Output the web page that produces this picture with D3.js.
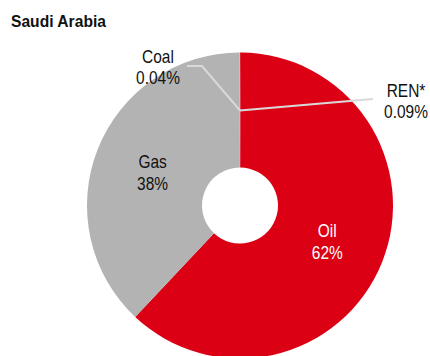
<!DOCTYPE html>
<html>
<head>
<meta charset="utf-8">
<script src="https://cdn.jsdelivr.net/npm/d3@7"></script>
<style>
  body { margin: 0; background: #fff; }
  text { font-family: "Liberation Sans", Arial, sans-serif; }
</style>
</head>
<body>
<div id="chart"></div>
<script>
// data
var categories = ["REN*", "Oil", "Gas", "Coal"];
var values = [0.09, 62, 38, 0.04];
var valueLabels = ["0.09%", "62%", "38%", "0.04%"];
var colors = ["#dc0014", "#dc0014", "#b3b3b3", "#b3b3b3"];

var width = 430, height = 356;
var cx = 240, cy = 205.5,
    outerR = 153, innerR = 38;
var squeeze = 0.86; // reference uses a narrow face

var svg = d3.select("#chart")
  .append("svg")
    .attr("width", width)
    .attr("height", height);

// places a condensed text
function label(parent, x, y, str, opts) {
  return parent.append("text")
    .attr("transform", "translate(" + x + "," + y + ") scale(" + (opts.sx || squeeze) + ",1)")
    .attr("text-anchor", opts.anchor || "middle")
    .style("font-size", (opts.size || 18) + "px")
    .style("font-weight", opts.weight || "normal")
    .attr("fill", opts.fill || "#111")
    .text(str);
}

// title
label(svg, 11, 27, "Saudi Arabia", {anchor: "start", size: 17, weight: "bold", sx: 0.92});

var g = svg.append("g")
  .attr("transform", "translate(" + cx + "," + cy + ")");

var data = categories.map(function(c, i) {
  return {name: c, value: values[i], label: valueLabels[i], color: colors[i]};
});

var pie = d3.pie()
  .sort(null)
  .value(function(d) { return d.value; });

var arc = d3.arc()
  .innerRadius(innerR)
  .outerRadius(outerR);

var labelArc = d3.arc()
  .innerRadius(94)
  .outerRadius(94);

var arcs = pie(data);

g.selectAll("path.slice")
  .data(arcs)
  .enter()
  .append("path")
    .attr("class", "slice")
    .attr("d", arc)
    .attr("fill", function(d) { return d.data.color; });

// inside labels for the big slices
arcs.filter(function(d) { return d.data.value > 1; }).forEach(function(d) {
  var c = labelArc.centroid(d);
  var fill = d.data.name == "Oil" ? "#fff" : "#111";
  label(g, c[0], c[1] - 3, d.data.name, {fill: fill});
  label(g, c[0], c[1] + 19, d.data.label, {fill: fill});
});

// leader lines and labels for the tiny slices
var leaderArc = d3.arc().innerRadius(95).outerRadius(95);
var callouts = {
  "Coal": {elbow: [-38, -139.5], end: [-53, -139.5], text: [-82, -143]},
  "REN*": {elbow: [133, -106.5], end: [133, -106.5], text: [166, -109]}
};

arcs.filter(function(d) { return d.data.value < 1; }).forEach(function(d) {
  var co = callouts[d.data.name];
  var s = leaderArc.centroid(d);
  g.append("polyline")
    .attr("points", [[0, s[1]], co.elbow, co.end].map(function(p) { return p.join(","); }).join(" "))
    .attr("fill", "none")
    .attr("stroke", "#d9d9d9")
    .attr("stroke-width", 2);
  label(g, co.text[0], co.text[1], d.data.name, {});
  label(g, co.text[0], co.text[1] + 21, d.data.label, {});
});
</script>
</body>
</html>
